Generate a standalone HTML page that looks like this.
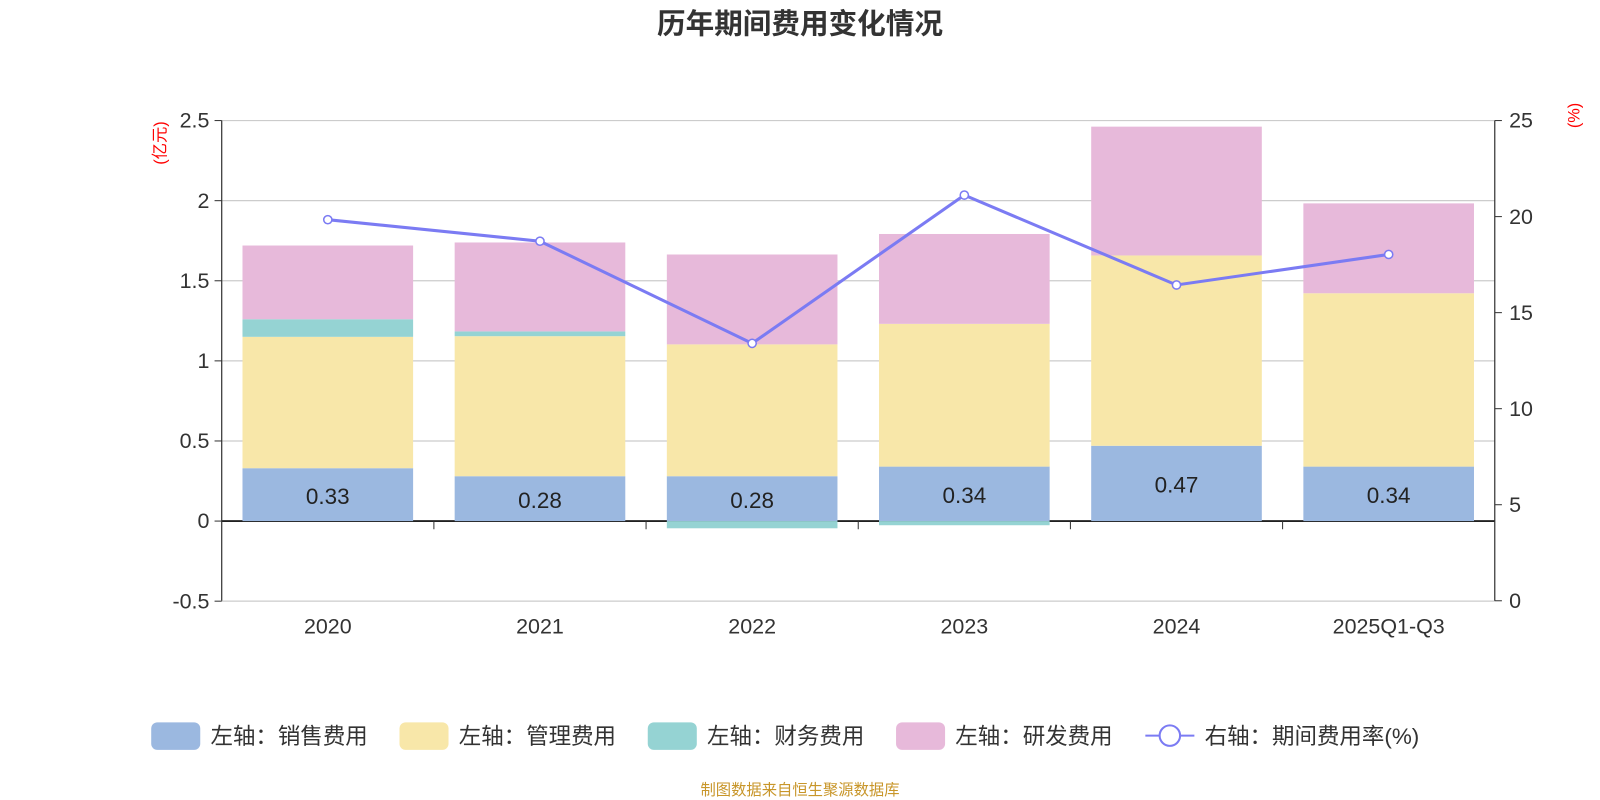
<!DOCTYPE html>
<html><head><meta charset="utf-8"><style>
body{margin:0;background:#fff;}
svg{display:block;}
svg text{font-family:"Liberation Sans","Noto Sans CJK SC",sans-serif;}
</style></head><body>
<svg id="c" width="1600" height="800" viewBox="0 0 1566 783" preserveAspectRatio="none" xmlns="http://www.w3.org/2000/svg">
<text x="783" y="33" text-anchor="middle" font-size="28" font-weight="bold" fill="#333">历年期间费用变化情况</text>
<g id="grid"></g><g id="bars"></g><g id="axes"></g><g id="line"></g><g id="legend"></g>
<text x="783" y="778" text-anchor="middle" font-size="15" fill="#c8962a">制图数据来自恒生聚源数据库</text>
</svg>
<script>
const categories=["2020","2021","2022","2023","2024","2025Q1-Q3"];
const sales=[0.33,0.28,0.28,0.34,0.47,0.34];
const mgmt=[0.82,0.874,0.823,0.891,1.188,1.082];
const fin=[0.11,0.03,-0.045,-0.026,0,0];
const rd=[0.46,0.555,0.561,0.561,0.804,0.561];
const rate=[19.84,18.72,13.40,21.12,16.44,18.03];
const leftTicks=[-0.5,0,0.5,1,1.5,2,2.5];
const rightTicks=[0,5,10,15,20,25];
const NS="http://www.w3.org/2000/svg";
const X0=217,X1=1463,YT=118,YB=588;
const yL=v=>510-v*156.8;
const yR=v=>YB-(v/25)*(YB-YT);
const bw=(X1-X0)/categories.length;
const xc=i=>X0+bw*(i+0.5);
function mk(p,t,a){const e=document.createElementNS(NS,t);for(const k in a)e.setAttribute(k,a[k]);p.appendChild(e);return e;}
const g=document.getElementById('grid'),b=document.getElementById('bars'),ax=document.getElementById('axes'),ln=document.getElementById('line'),lg=document.getElementById('legend');
leftTicks.forEach(v=>{
 const l=mk(g,'line',{x1:X0,x2:X1,y1:yL(v),y2:yL(v),stroke:v===0?'#000':'#ccc','stroke-width':v===0?1.5:1.2});
 
 
 const t=mk(ax,'text',{x:X0-12,y:yL(v)+7,'text-anchor':'end','font-size':21,fill:'#333'});t.textContent=v;
 
 
 mk(ax,'line',{x1:X0-7,x2:X0,y1:yL(v),y2:yL(v),stroke:'#333'});
});
rightTicks.forEach(v=>{
 const t=mk(ax,'text',{x:X1+14,y:yR(v)+7,'font-size':21,fill:'#333'});t.textContent=v;
 
 
 mk(ax,'line',{x1:X1,x2:X1+7,y1:yR(v),y2:yR(v),stroke:'#333'});
});
mk(ax,'line',{x1:X0,x2:X0,y1:YT,y2:YB,stroke:'#333','stroke-width':1.2});
mk(ax,'line',{x1:X1,x2:X1,y1:YT,y2:YB,stroke:'#333','stroke-width':1.2});
for(let i=1;i<categories.length;i++)mk(ax,'line',{x1:X0+bw*i,x2:X0+bw*i,y1:510,y2:518,stroke:'#333'});
let t1=mk(ax,'text',{x:162,y:140,'font-size':16,fill:'red',transform:'rotate(-90 162 140)','text-anchor':'middle'});t1.textContent='(亿元)';

let t2=mk(ax,'text',{x:1546,y:113,'font-size':16,fill:'red',transform:'rotate(-90 1546 113)','text-anchor':'middle'});t2.textContent='(%)';

const colors=['#9bb8e0','#f8e7a9','#95d3d3','#e7b9da'];
const series=[sales,mgmt,fin,rd];
const names=['sales','mgmt','fin','rd'];
categories.forEach((c,i)=>{
 let pos=0,neg=0;
 series.forEach((s,k)=>{
  const v=s[i];let y0,y1;
  if(v>=0){y0=pos;y1=pos+v;pos=y1;}else{y0=neg;y1=neg+v;neg=y1;}
  const r=mk(b,'rect',{x:xc(i)-83.5,width:167,y:Math.min(yL(y0),yL(y1)),height:Math.abs(yL(y1)-yL(y0)),fill:colors[k]});
  
  
 });
 const t=mk(b,'text',{x:xc(i),y:(yL(0)+yL(sales[i]))/2+9,'text-anchor':'middle','font-size':22,fill:'#222'});t.textContent=sales[i].toFixed(2);
 
 
 const xl=mk(ax,'text',{x:xc(i),y:620,'text-anchor':'middle','font-size':21,fill:'#333'});xl.textContent=c;
 
 
});
const pl=mk(ln,'polyline',{points:rate.map((v,i)=>xc(i)+','+yR(v)).join(' '),fill:'none',stroke:'#7b7bf3','stroke-width':3});


rate.forEach((v,i)=>{const p=mk(ln,'circle',{cx:xc(i),cy:yR(v),r:4,fill:'#fff',stroke:'#7b7bf3','stroke-width':1.5});
 
 });
const leg=[['左轴：销售费用',148],['左轴：管理费用',391],['左轴：财务费用',634],['左轴：研发费用',877]];
leg.forEach((l,k)=>{
 const r=mk(lg,'rect',{x:l[1],y:707,width:48,height:27,rx:6,fill:colors[k]});
 
 
 const t=mk(lg,'text',{x:l[1]+58,y:728,'font-size':22,fill:'#333'});t.textContent=l[0];
 
 
});
mk(lg,'line',{x1:1121,x2:1169,y1:720,y2:720,stroke:'#7b7bf3','stroke-width':2});
mk(lg,'circle',{cx:1145,cy:720,r:10,fill:'#fff',stroke:'#7b7bf3','stroke-width':2});
const lt=mk(lg,'text',{x:1179,y:728,'font-size':22,fill:'#333'});lt.textContent='右轴：期间费用率(%)';


</script>
</body></html>
